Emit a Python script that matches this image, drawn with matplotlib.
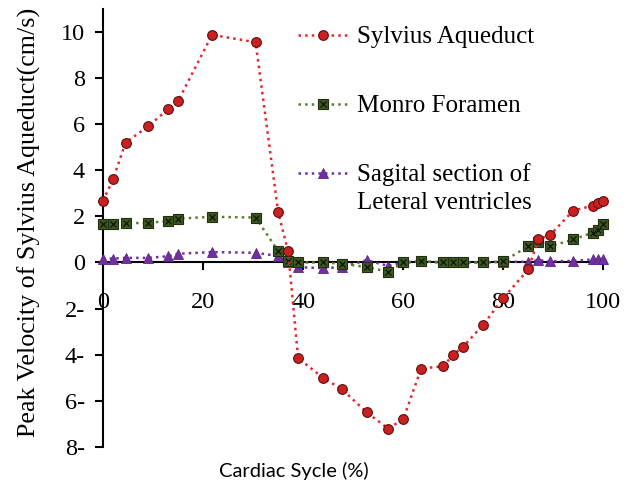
import matplotlib
matplotlib.use('Agg')
import matplotlib.pyplot as plt
from matplotlib.legend_handler import HandlerTuple

# cardiac cycle positions (%)
ciclo = [0, 2, 4.5, 9, 13, 15, 21.8, 30.5, 35, 37, 39, 44, 47.8, 52.7, 57, 60, 63.6,
         68, 70, 72, 76, 80, 85, 87, 89.4, 94, 98, 99, 100]

sylvius = [2.68, 3.6, 5.2, 5.9, 6.65, 7.0, 9.87, 9.55, 2.2, 0.48, -4.15, -5.0, -5.5,
           -6.5, -7.2, -6.8, -4.6, -4.5, -4.0, -3.65, -2.7, -1.55, -0.3, 1.0, 1.2,
           2.25, 2.47, 2.6, 2.68]

monro = [1.65, 1.65, 1.7, 1.72, 1.8, 1.9, 1.98, 1.95, 0.5, 0.05, 0.0, 0.0, -0.05,
         -0.2, -0.4, 0.0, 0.05, 0.0, 0.0, 0.0, 0.0, 0.05, 0.7, 0.9, 0.7, 1.0, 1.3,
         1.43, 1.65]

sagital = [0.17, 0.17, 0.2, 0.2, 0.27, 0.38, 0.45, 0.42, 0.28, 0.0, -0.2, -0.25, -0.2,
           0.1, -0.15, 0.0, 0.05, 0.0, 0.0, 0.02, 0.0, 0.03, 0.03, 0.1, 0.05, 0.07,
           0.13, 0.15, 0.15]

yticks = [10, 8, 6, 4, 2, 0, -2, -4, -6, -8]
ytick_labels = [str(v) if v >= 0 else f'{abs(v)}-' for v in yticks]
xticks = [0, 20, 40, 60, 80, 100]

serif = 'Liberation Serif'

fig = plt.figure(figsize=(6.34, 4.88), dpi=100)
ax = fig.add_axes([0.1625, 0.084, 0.789, 0.898])

l1, = ax.plot(ciclo, sylvius, linestyle=':', color='#e8262a', linewidth=1.8,
              marker='o', markersize=7, markerfacecolor='#cc1f1f',
              markeredgecolor='#5a1010', markeredgewidth=0.8, clip_on=False, zorder=5)
l2, = ax.plot(ciclo, monro, linestyle=':', color='#5b7f2e', linewidth=1.8,
              marker='s', markersize=6.5, markerfacecolor='#3d5a1e',
              markeredgecolor='#1e2e0e', markeredgewidth=0.8, clip_on=False, zorder=4)
l2x, = ax.plot(ciclo, monro, linestyle='none', marker='x', markersize=4.5,
               markeredgecolor='#111111', markeredgewidth=0.9, clip_on=False, zorder=4)
l3, = ax.plot(ciclo, sagital, linestyle=':', color='#7030a0', linewidth=1.8,
              marker='^', markersize=7.5, markerfacecolor='#7030a0',
              markeredgecolor='#5a2585', markeredgewidth=0.6, clip_on=False, zorder=3)

ax.set_xlim(0, 100)
ax.set_ylim(-8, 11)

for s in ['top', 'right']:
    ax.spines[s].set_visible(False)
ax.spines['bottom'].set_position(('data', 0))
ax.spines['left'].set_linewidth(1.5)
ax.spines['bottom'].set_linewidth(1.5)

ax.set_yticks(yticks)
ax.set_yticklabels(ytick_labels, fontfamily=serif, fontsize=17.5)
ax.set_xticks(xticks)
ax.set_xticklabels([str(v) for v in xticks], fontfamily=serif, fontsize=17.5)
ax.tick_params(axis='y', direction='out', length=6, width=1.5, pad=7)
ax.tick_params(axis='x', direction='out', length=6, width=1.5, pad=15)

ax.set_ylabel('Peak Velocity of Sylvius Aqueduct(cm/s)', fontfamily=serif, fontsize=18.7)
ax.yaxis.set_label_coords(-0.124, 0.512)
ax.set_xlabel('Cardiac Sycle (%)', fontfamily='Lato', fontsize=14.5)
ax.xaxis.set_label_coords(0.382, -0.035)

leg = ax.legend([l1, (l2, l2x), l3],
                ['Sylvius Aqueduct', 'Monro Foramen', 'Sagital section of'],
                handler_map={tuple: HandlerTuple(ndivide=1)},
                loc='upper left', bbox_to_anchor=(298 / 634, 1 - 26 / 488),
                bbox_transform=fig.transFigure, frameon=False, borderpad=0,
                borderaxespad=0, labelspacing=1.85, handlelength=2.0,
                handletextpad=0.35, prop={'family': serif, 'size': 18})

# second line of the third legend label, set under the first
fig.canvas.draw()
bb = leg.get_texts()[2].get_window_extent()
fig.text(bb.x0 / fig.bbox.width, (bb.y0 - 28) / fig.bbox.height, 'Leteral ventricles',
         fontfamily=serif, fontsize=18, va='bottom', ha='left')

fig.savefig('out.png', dpi=100)
